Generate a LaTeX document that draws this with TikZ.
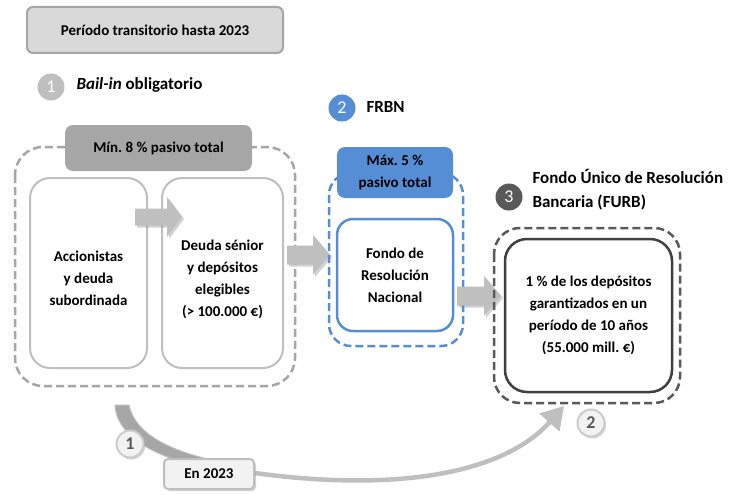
\documentclass[tikz,border=0pt]{standalone}
\usepackage{fontspec}
\setmainfont{Carlito}
\frenchspacing
\usetikzlibrary{arrows.meta,shadows,calc}
\definecolor{lgray}{HTML}{D9D9D9}
\definecolor{mgray}{HTML}{A6A6A6}
\definecolor{bgray}{HTML}{BFBFBF}
\definecolor{dgray}{HTML}{595959}
\definecolor{ddgray}{HTML}{404040}
\definecolor{blueA}{HTML}{558ED5}
\definecolor{paleg}{HTML}{F2F2F2}
\tikzset{
  txt/.style={font=\fontsize{15}{22}\selectfont\bfseries, align=center, text=black},
  head/.style={font=\fontsize{17}{24}\selectfont\bfseries, text=black},
  numc/.style={circle, minimum size=27pt, inner sep=0pt, font=\fontsize{18}{20}\selectfont, text=white},
  softc/.style={circle, minimum size=27pt, inner sep=0pt, fill=paleg, draw=bgray!80, line width=2pt,
     font=\fontsize{18}{20}\selectfont\bfseries, text=dgray,
     drop shadow={shadow xshift=1.5pt, shadow yshift=-2pt, opacity=.35}},
  grpdash/.style={dash pattern=on 8pt off 4pt, line width=2.5pt, rounded corners=28pt},
  barrow/.style={fill=bgray, draw=none, drop shadow={shadow xshift=2pt, shadow yshift=-2pt, opacity=.35}},
}
\newcommand{\blockarr}[7]{% name, x1, x2, yc, shaft half, head half, head length
  \path[barrow] (#2,#4-#5) -- (#3-#7,#4-#5) -- (#3-#7,#4-#6) -- (#3,#4) -- (#3-#7,#4+#6) -- (#3-#7,#4+#5) -- (#2,#4+#5) -- cycle;
  \coordinate (#1) at (#3,#4);}
\begin{document}
\begin{tikzpicture}[x=1pt,y=-1pt]
\useasboundingbox (0,0) rectangle (737,495);
\fill[white] (0,0) rectangle (737,495);

% header
\node[txt, draw=mgray, fill=lgray, line width=2pt, rounded corners=6pt, minimum width=256pt, minimum height=46pt] (period) at (155,30) {Período transitorio hasta 2023};

% step 1
\node[numc, fill=bgray] (n1) at (51,87) {1};
\node[head, anchor=west] (bail) at (73,85) {\itshape Bail-in\/\upshape{} obligatorio};

\draw[grpdash, draw=mgray] (15,147) rectangle (295,386);
\node[txt, fill=mgray, rounded corners=8pt, minimum width=187pt, minimum height=46pt] (min8) at (158.5,148) {Mín. 8 \% pasivo total};
\node[draw=bgray, line width=2pt, fill=white, rounded corners=20pt, minimum width=117pt, minimum height=190pt] (acc) at (88.5,273) {};
\node[txt] (acct) at (88.5,278) {Accionistas\\y deuda\\subordinada};
\node[draw=bgray, line width=2pt, fill=white, rounded corners=20pt, minimum width=121pt, minimum height=190pt] (deu) at (222.5,273) {};
\node[txt] (deut) at (222.5,279) {Deuda sénior\\y depósitos\\elegibles\\(> 100.000 €)};
\blockarr{a1}{135}{182}{217}{8.5}{20}{15}

% step 2
\blockarr{a2}{287}{330}{255}{9.5}{20}{17}
\node[numc, fill=blueA] (n2) at (342,108) {2};
\node[head, anchor=west] (frbn) at (363,107) {FRBN};
\draw[grpdash, draw=blueA, rounded corners=22pt] (329,173) rectangle (463,346);
\node[txt, fill=blueA, rounded corners=8pt, minimum width=116pt, minimum height=51pt] (max5) at (395,172.5) {Máx. 5 \%\\pasivo total};
\node[txt, draw=blueA, line width=2.5pt, fill=white, rounded corners=16pt, minimum width=116pt, minimum height=112pt] (frn) at (395,275) {Fondo de\\Resolución\\Nacional};

% step 3
\blockarr{a3}{457}{501}{296}{9.5}{20}{17}
\node[numc, fill=dgray] (n3) at (509,197) {3};
\node[head, anchor=west, align=left] (furbt) at (529,190) {Fondo Único de Resolución\\Bancaria (FURB)};
\draw[grpdash, draw=dgray, rounded corners=26pt] (494,228) rectangle (680,403);
\node[txt, draw=ddgray, line width=2.5pt, fill=white, rounded corners=22pt, minimum width=167pt, minimum height=153pt] (furb) at (588.5,315.5) {1 \% de los depósitos\\garantizados en un\\período de 10 años\\(55.000 mill. €)};

% bottom curved arrow
\filldraw[fill=mgray, draw=bgray, line width=1pt] (115,405) -- (129,405) .. controls (136,438) and (180,455) .. (232,464) -- (232,473) .. controls (170,464) and (117,442) .. cycle;
\draw[bgray, line width=4.5pt, -{Triangle[width=26pt,length=22pt]}] (228,469) .. controls (380,494) and (500,478) .. (564,406);
\node[softc] (c1) at (130,444) {1};
\node[softc] (c2) at (591,423) {2};
\node[txt, fill=paleg, draw=bgray, line width=2pt, rounded corners=4pt, minimum width=90pt, minimum height=30pt, drop shadow={shadow xshift=2pt, shadow yshift=-2pt, opacity=.35}] (en) at (209,474) {En 2023};
\end{tikzpicture}
\end{document}
